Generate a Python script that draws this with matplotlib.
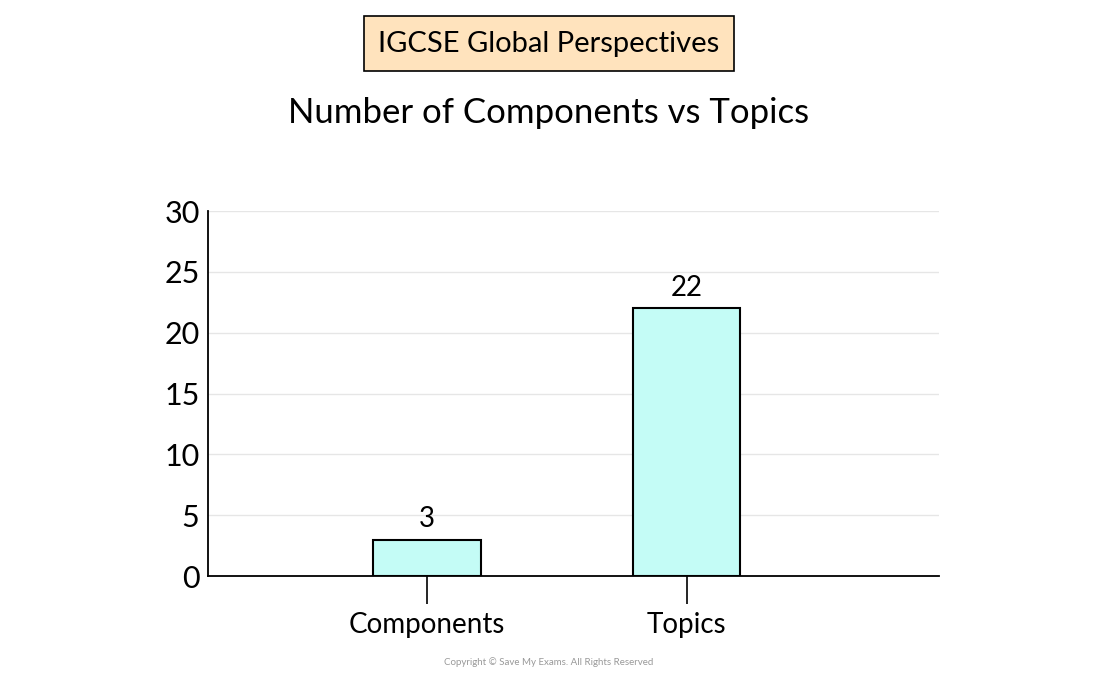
import matplotlib.pyplot as plt

categories = ["Components", "Topics"]
values = [3, 22]
y_ticks = [0, 5, 10, 15, 20, 25, 30]

plt.rcParams['font.family'] = ['Lato', 'DejaVu Sans']

fig = plt.figure(figsize=(11, 6.74), dpi=100)
ax = fig.add_axes([0.189, 0.1454, 0.665, 0.5415])

x = list(range(len(categories)))
bars = ax.bar(x, values, width=0.415, color='#c4fcf6', edgecolor='black', linewidth=1.5, zorder=3)
for xi, v in zip(x, values):
    ax.text(xi, v + 0.6, str(v), ha='center', va='bottom', fontsize=20)

ax.set_xlim(-0.842, 1.973)
ax.set_ylim(0, 30)
ax.set_yticks(y_ticks)
ax.set_xticks(x)
ax.set_xticklabels(categories)
ax.tick_params(axis='y', length=0, labelsize=22, pad=6)
ax.tick_params(axis='x', length=20, width=1.2, labelsize=20, pad=6, direction='out')
ax.grid(axis='y', color='#e6e6e6', linewidth=1, zorder=0)
for s in ['top', 'right']:
    ax.spines[s].set_visible(False)
ax.spines['left'].set_linewidth(1.3)
ax.spines['bottom'].set_linewidth(1.3)

fig.text(0.499, 0.935, "IGCSE Global Perspectives", ha='center', va='center', fontsize=21,
         bbox=dict(boxstyle='square,pad=0.5', facecolor='#ffe3bd', edgecolor='black', linewidth=1.2))
fig.text(0.499, 0.833, "Number of Components vs Topics", ha='center', va='center', fontsize=25)
fig.text(0.499, 0.017, "Copyright © Save My Exams. All Rights Reserved", ha='center', va='center',
         fontsize=7, color='#999999')

fig.savefig("out.png", dpi=100)
